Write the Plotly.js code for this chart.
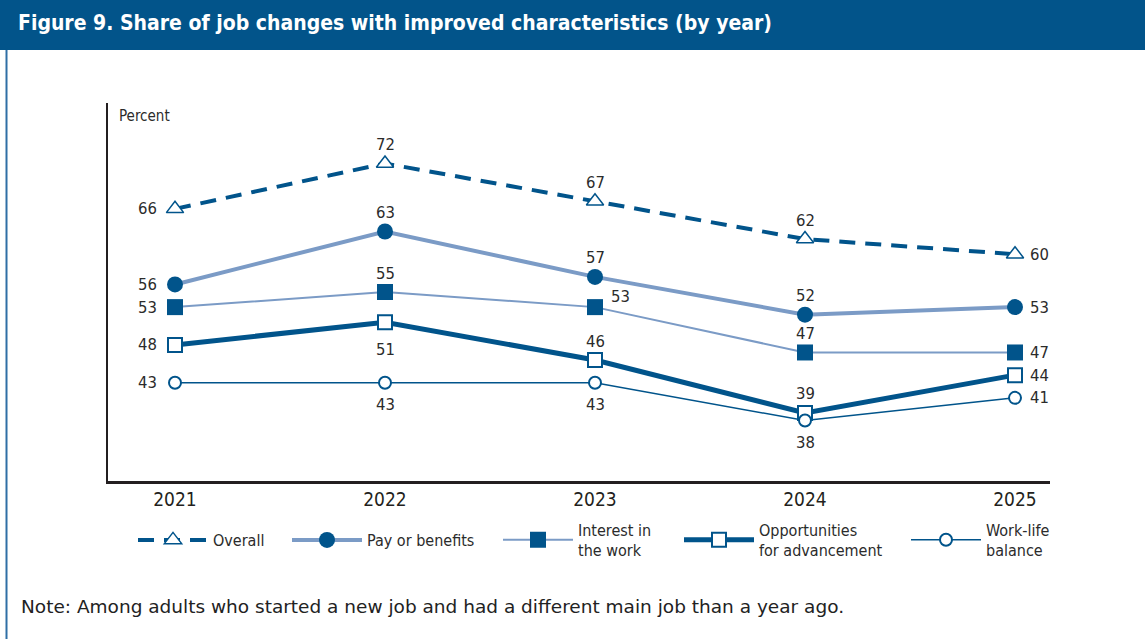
<!DOCTYPE html>
<html>
<head>
<meta charset="utf-8">
<script src="https://cdn.plot.ly/plotly-3.0.1.min.js"></script>
<style>
  html, body { margin: 0; padding: 0; background: #ffffff; }
  #chart { width: 1145px; height: 639px; }
</style>
</head>
<body>
<div id="chart"></div>
<script>
const years = [2021, 2022, 2023, 2024, 2025];
const tickLabels = ['2021', '2022', '2023', '2024', '2025'];

const overall = [66, 72, 67, 62, 60];
const payBenefits = [56, 63, 57, 52, 53];
const interestWork = [53, 55, 53, 47, 47];
const advancement = [48, 51, 46, 39, 44];
const workLife = [43, 43, 43, 38, 41];

const seriesNames = ['Overall', 'Pay or benefits', 'Interest in<br>the work', 'Opportunities<br>for advancement', 'Work-life<br>balance'];

// where each value label sits relative to its point
const labelPos = [
  ['L', 'T', 'T', 'T', 'R'],
  ['L', 'T', 'T', 'T', 'R'],
  ['L', 'T', 'TR', 'T', 'R'],
  ['L', 'B2', 'T', 'T', 'R'],
  ['L', 'B', 'B', 'B', 'R']
];

const FONT = '"DejaVu Sans Condensed", "Liberation Sans Narrow", Roboto, sans-serif';
const NOTE_FONT = '"DejaVu Sans", "Open Sans", sans-serif';
const DARK = '#01548b';
const LIGHT = '#7b9bc6';
const TXT = '#2b2b2b';

const allSeries = [overall, payBenefits, interestWork, advancement, workLife];

const styles = [
  { line: { color: DARK, width: 4, dash: '16px,10px' },
    marker: { symbol: 'triangle-up', size: 15, color: '#ffffff', line: { color: DARK, width: 1.5 } } },
  { line: { color: LIGHT, width: 4 },
    marker: { symbol: 'circle', size: 16, color: DARK, line: { width: 0 } } },
  { line: { color: LIGHT, width: 2 },
    marker: { symbol: 'square', size: 16, color: DARK, line: { width: 0 } } },
  { line: { color: DARK, width: 5 },
    marker: { symbol: 'square', size: 14, color: '#ffffff', line: { color: DARK, width: 2 } } },
  { line: { color: DARK, width: 1.5 },
    marker: { symbol: 'circle', size: 12, color: '#ffffff', line: { color: DARK, width: 2 } } }
];

const legendIds = ['legend', 'legend2', 'legend3', 'legend4', 'legend5'];
const legendX = [133, 287, 498, 679, 906];

const traces = allSeries.map((vals, i) => ({
  x: years, y: vals, name: seriesNames[i], type: 'scatter', mode: 'lines+markers',
  line: styles[i].line, marker: styles[i].marker,
  legend: legendIds[i], cliponaxis: false
}));

const offsets = {
  L:  { xanchor: 'right', xshift: -16, yshift: 0 },
  R:  { xanchor: 'left', xshift: 13, yshift: 0 },
  T:  { xanchor: 'center', xshift: 0, yshift: 19 },
  TR: { xanchor: 'left', xshift: 14, yshift: 11 },
  B:  { xanchor: 'center', xshift: 0, yshift: -22 },
  B2: { xanchor: 'center', xshift: 0, yshift: -27 }
};

const valueLabels = [];
allSeries.forEach((vals, i) => {
  vals.forEach((v, j) => {
    const o = offsets[labelPos[i][j]];
    valueLabels.push({
      x: years[j], y: v, xref: 'x', yref: 'y', text: String(v), showarrow: false,
      xanchor: o.xanchor, yanchor: 'middle', xshift: o.xshift, yshift: o.yshift,
      font: { family: FONT, size: 16.5, color: TXT }
    });
  });
});

// pixel helpers for paper coordinates
const L = 108, R = 1050, T = 103, B = 481;
const px = p => (p - L) / (R - L);
const py = p => (B - p) / (B - T);

const legendBase = {
  orientation: 'h', xanchor: 'left', y: py(540), yanchor: 'middle',
  font: { family: FONT, size: 16, color: TXT },
  itemwidth: 70, bgcolor: 'rgba(0,0,0,0)', valign: 'middle'
};

const layout = {
  width: 1145, height: 639,
  margin: { l: L, r: 1145 - R, t: T, b: 639 - B, pad: 0 },
  paper_bgcolor: '#ffffff', plot_bgcolor: '#ffffff',
  font: { family: FONT, color: TXT },
  showlegend: true,
  hovermode: false,
  title: {
    text: '<b>Figure 9. Share of job changes with improved characteristics (by year)</b>',
    font: { family: FONT, size: 21, color: '#ffffff' },
    xref: 'container', x: 18 / 1145, xanchor: 'left',
    yref: 'container', y: 1 - 23 / 639, yanchor: 'middle'
  },
  xaxis: {
    range: [2021 - 67 / 210, 2025 + 35 / 210],
    tickvals: years, ticktext: tickLabels,
    showgrid: false, zeroline: false,
    showline: true, linecolor: '#231f20', linewidth: 2.5,
    ticks: '', tickfont: { family: FONT, size: 19, color: '#231f20' },
    fixedrange: true
  },
  yaxis: {
    range: [30, 80],
    showgrid: false, zeroline: false, showticklabels: false,
    showline: true, linecolor: '#231f20', linewidth: 2,
    ticks: '', fixedrange: true
  },
  shapes: [
    { type: 'rect', xref: 'paper', yref: 'paper', x0: px(0), x1: px(1145), y0: py(50), y1: py(0),
      fillcolor: '#02548a', line: { width: 0 }, layer: 'below' },
    { type: 'line', xref: 'paper', yref: 'paper', x0: px(6.5), x1: px(6.5), y0: py(50), y1: py(639),
      line: { color: '#2f6fa5', width: 2 } }
  ],
  annotations: [
    { text: 'Percent', xref: 'paper', yref: 'paper', x: px(117), y: py(116),
      xanchor: 'left', yanchor: 'middle', showarrow: false,
      font: { family: FONT, size: 15, color: TXT } },
    { text: 'Note: Among adults who started a new job and had a different main job than a year ago.',
      xref: 'paper', yref: 'paper', x: px(19), y: py(606),
      xanchor: 'left', yanchor: 'middle', showarrow: false,
      font: { family: NOTE_FONT, size: 18.5, color: '#222222' } }
  ].concat(valueLabels)
};

legendIds.forEach((id, i) => {
  layout[id] = Object.assign({}, legendBase, { x: px(legendX[i]) });
});

Plotly.newPlot('chart', traces, layout, { displayModeBar: false, staticPlot: true });
</script>
</body>
</html>
